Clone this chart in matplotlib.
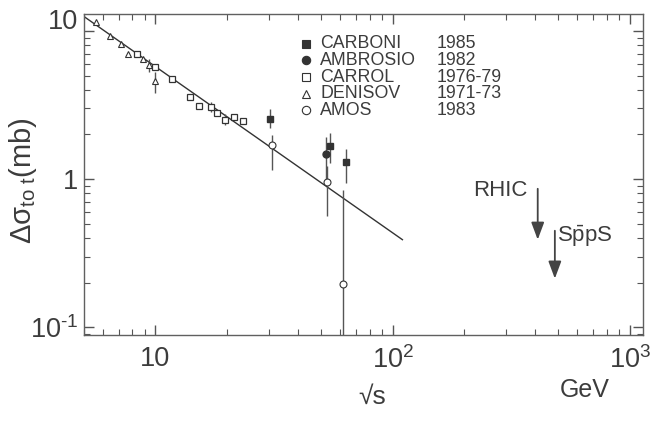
import numpy as np
import matplotlib
matplotlib.use("Agg")
import matplotlib.pyplot as plt
import matplotlib.transforms as mtransforms
from matplotlib.ticker import FixedLocator, FixedFormatter, LogLocator, NullFormatter

plt.rcParams['font.family'] = ['Liberation Sans', 'DejaVu Sans']
plt.rcParams['mathtext.fontset'] = 'custom'
plt.rcParams['mathtext.rm'] = 'Liberation Sans'
plt.rcParams['mathtext.it'] = 'Liberation Sans'
plt.rcParams['mathtext.bf'] = 'Liberation Sans'

# DENISOV 1971-73 (triangles)
den_x = [5.6, 6.45, 7.15, 7.7, 8.85, 9.4, 9.95]
den_y = [11.5, 9.25, 8.1, 7.0, 6.45, 5.9, 4.6]
den_lo = [np.nan, np.nan, np.nan, np.nan, np.nan, 5.32, 3.8]
den_hi = [np.nan, np.nan, np.nan, np.nan, np.nan, 6.45, 5.32]

# CARROL 1976-79 (open squares)
car_x = [8.4, 10.0, 11.8, 14.0, 15.3, 17.2, 18.2, 19.7, 21.5, 23.4]
car_y = [7.0, 5.75, 4.75, 3.6, 3.1, 3.06, 2.8, 2.5, 2.62, 2.45]
car_lo = [np.nan, np.nan, np.nan, np.nan, np.nan, 2.85, np.nan, 2.3, np.nan, np.nan]
car_hi = [np.nan, np.nan, np.nan, np.nan, np.nan, 3.3, np.nan, 2.75, np.nan, np.nan]

# CARBONI 1985 (filled squares)
cbn_x = [30.5, 54.2, 63.8]
cbn_y = [2.55, 1.66, 1.30]
cbn_lo = [2.2, 1.28, 0.94]
cbn_hi = [2.95, 2.04, 1.59]

# AMBROSIO 1982 (filled circle)
amb_x = [52.5]
amb_y = [1.47]
amb_lo = [1.0]
amb_hi = [1.93]

# AMOS 1983 (open circles)
amo_x = [31.0, 53.1, 61.6]
amo_y = [1.70, 0.954, 0.196]
amo_lo = [1.15, 0.56, 0.01]
amo_hi = [1.99, 1.22, 0.845]

# fitted line
fit_x = [5.0, 110.0]
fit_y = [12.5, 0.39]

legend_names = ["CARBONI", "AMBROSIO", "CARROL", "DENISOV", "AMOS"]
legend_years = ["1985", "1982", "1976-79", "1971-73", "1983"]

ink = "#333333"
txt = "#3c3c3c"

fig = plt.figure(figsize=(6.65, 4.22), dpi=100)
ax = fig.add_axes([0.1263, 0.2062, 0.8411, 0.7606])
ax.set_xscale("log")
ax.set_yscale("log")
ax.set_xlim(5.0, 1140)
ax.set_ylim(0.0887, 13.0)


def yerr(y, lo, hi):
    y = np.array(y, float)
    return [y - np.array(lo, float), np.array(hi, float) - y]


ax.plot(fit_x, fit_y, color=ink, lw=1.0, zorder=2)

ebkw = dict(ls="none", ecolor="#555555", elinewidth=1.0, capsize=0, zorder=3)
ax.errorbar(den_x, den_y, yerr=yerr(den_y, den_lo, den_hi), marker="^", ms=5,
            mfc="white", mec=ink, mew=0.8, **ebkw)
ax.errorbar(car_x, car_y, yerr=yerr(car_y, car_lo, car_hi), marker="s", ms=5,
            mfc="white", mec=ink, mew=0.9, **ebkw)
ax.errorbar(cbn_x, cbn_y, yerr=yerr(cbn_y, cbn_lo, cbn_hi), marker="s", ms=5,
            mfc=ink, mec=ink, **ebkw)
ax.errorbar(amb_x, amb_y, yerr=yerr(amb_y, amb_lo, amb_hi), marker="o", ms=5,
            mfc=ink, mec=ink, **ebkw)
ax.errorbar(amo_x, amo_y, yerr=yerr(amo_y, amo_lo, amo_hi), marker="o", ms=5,
            mfc="white", mec=ink, mew=0.8, **ebkw)

# legend drawn by hand: marker, name, year
leg_markers = [("s", ink), ("o", ink), ("s", "white"), ("^", "white"), ("o", "white")]
for i, (name, year) in enumerate(zip(legend_names, legend_years)):
    yy = 0.907 - i * 0.0517
    m, fc = leg_markers[i]
    ax.plot([0.397], [yy], marker=m, ms=6, mfc=fc, mec=ink, mew=0.8,
            transform=ax.transAxes, clip_on=False)
    ax.text(0.422, yy, name, transform=ax.transAxes, fontsize=12.8,
            color=txt, va="center")
    ax.text(0.631, yy, year, transform=ax.transAxes, fontsize=12.8,
            color=txt, va="center")

# accelerator arrows
arrow = dict(arrowstyle="-|>,head_length=0.75,head_width=0.28", color="#444444",
             lw=1.3, mutation_scale=14, shrinkA=0, shrinkB=0)
ax.annotate("", xy=(409, 0.39), xytext=(409, 0.86), arrowprops=arrow)
ax.annotate("", xy=(483, 0.213), xytext=(483, 0.448), arrowprops=arrow)
ax.text(371, 0.84, "RHIC", fontsize=16, color=txt, ha="right", va="center")
ax.text(492, 0.41, r"S$\bar{\rm p}$pS", fontsize=16, color=txt, ha="left", va="center")

# ticks
for s in ax.spines.values():
    s.set_color("#606060")
    s.set_linewidth(1.0)
ax.tick_params(which="both", direction="in", top=True, right=True,
               colors="#555555", labelcolor=txt, labelsize=19.5)
ax.tick_params(which="major", length=7, width=1.0)
ax.tick_params(which="minor", length=4.3, width=0.8)
ax.tick_params(axis="x", pad=8)
ax.tick_params(axis="y", pad=4)

ax.xaxis.set_major_locator(FixedLocator([10, 100, 1000]))
ax.xaxis.set_major_formatter(FixedFormatter(["10", r"$10^2$", r"$10^3$"]))
ax.xaxis.set_minor_locator(LogLocator(base=10, subs=np.arange(2, 10)))
ax.xaxis.set_minor_formatter(NullFormatter())
ax.yaxis.set_major_locator(FixedLocator([0.1, 1, 10]))
ax.yaxis.set_major_formatter(FixedFormatter([r"$10^{\text{-}1}$", "1", "10"]))
ax.yaxis.set_minor_locator(LogLocator(base=10, subs=np.arange(2, 10)))
ax.yaxis.set_minor_formatter(NullFormatter())

fig.canvas.draw()
top_label = ax.get_yticklabels()[-1]
top_label.set_transform(top_label.get_transform() +
                        mtransforms.ScaledTranslation(0, 12 / 100, fig.dpi_scale_trans))

ax.set_ylabel(r"$\Delta\sigma_{\rm to\ t}$(mb)", fontsize=21, color=txt)
ax.yaxis.set_label_coords(-0.08, 0.48)

fig.text(372 / 665, 1 - 397 / 422, "√s", fontsize=19, color=txt,
         ha="center", va="center")
fig.text(585 / 665, 1 - 390 / 422, "GeV", fontsize=18, color=txt,
         ha="center", va="center")

fig.savefig("out.png", dpi=100)
